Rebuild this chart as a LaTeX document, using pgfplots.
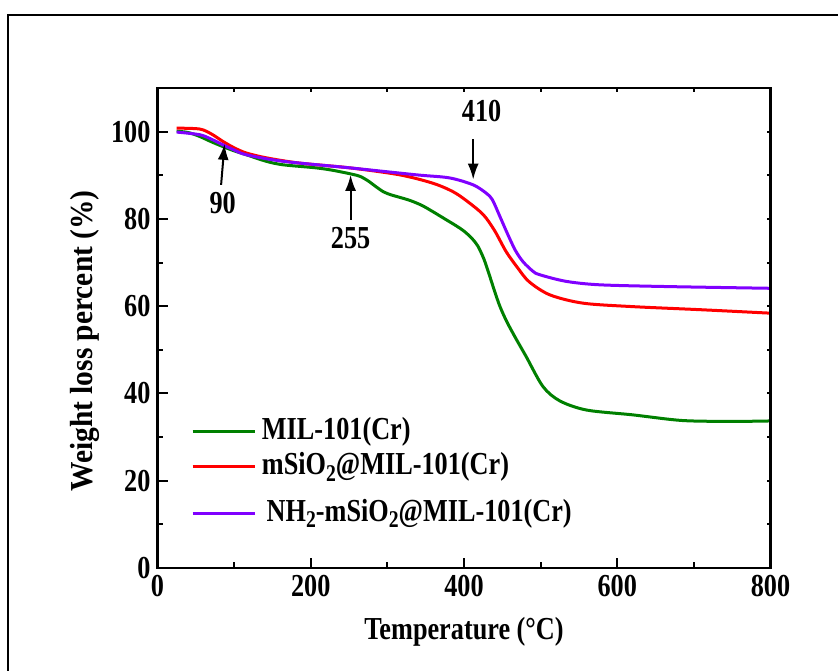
\documentclass[border=0pt]{standalone}
\usepackage{fontspec}
\setmainfont{Liberation Serif}[FakeStretch=0.82]
\newfontfamily\ylabfont{Liberation Serif}[FakeStretch=0.92]
\usepackage{pgfplots}
\pgfplotsset{compat=1.18}
\usetikzlibrary{arrows.meta}
\definecolor{cgreen}{RGB}{0,128,0}
\definecolor{cred}{RGB}{255,0,0}
\definecolor{cpurple}{RGB}{128,0,255}
\newcommand{\bigf}{\bfseries\fontsize{16}{19}\selectfont}
\newcommand{\sub}[1]{\raisebox{-0.45ex}{\fontsize{12}{12}\selectfont #1}}
\begin{document}
\begin{tikzpicture}[x=1pt,y=1pt,font=\bigf]
\useasboundingbox (-78.75,-51) rectangle (340.25,284);
\draw[line width=1pt] (-74.75,-60) -- (-74.75,276.5) -- (360,276.5);
\begin{axis}[
  name=main, at={(0,0)}, anchor=south west,
  scale only axis, width=306.5pt, height=240pt,
  xmin=0, xmax=800, ymin=0, ymax=110,
  xtick={0,200,400,600,800}, ytick={0,20,40,60,80,100},
  minor x tick num=1, minor y tick num=1,
  tick pos=left, tick align=inside,
  major tick length=5pt, minor tick length=2.8pt,
  every tick/.style={black, line width=1pt},
  axis line style={line width=1.3pt},
  /pgf/number format/assume math mode=true,
  ticklabel style={font=\bigf},
  xlabel={Temperature (°C)}, ylabel={\ylabfont Weight loss percent (\%)},
  xlabel style={at={(axis description cs:0.5,-0.133)}, anchor=center, font=\bigf},
  ylabel style={at={(axis description cs:-0.118,0.473)}, anchor=center, font=\bigf},
  clip=false,
]
\addplot[cgreen, line width=1.5pt, smooth, tension=0.5] coordinates {
(25,100.1) (40,99.8) (55,98.9) (70,97.7) (85,96.6) (100,95.6) (116,94.7) (142,93.2)
(164,92.4) (207,91.7) (230,91.1) (255,90.2) (265,89.7) (275,88.7) (285,87.4) (295,86.2)
(305,85.5) (315,85.0) (330,84.2) (345,83.1) (359,81.7) (375,80.0) (390,78.4) (400,77.2)
(410,75.6) (418,73.8) (426,70.8) (433,67.2) (440,63.4) (447,59.9) (456,56.4) (468,52.5)
(481,48.5) (503,41.6) (525,38.3) (560,36.2) (620,35.1) (685,33.8) (751,33.6) (800,33.7)};
\addplot[cred, line width=1.5pt, smooth, tension=0.5] coordinates {
(25,100.8) (55,100.6) (70,99.5) (85,97.8) (100,96.3) (116,95.1) (142,94.0) (185,92.8)
(251,91.7) (316,90.1) (359,88.2) (385,86.3) (403,84.2) (425,81.0) (440,77.3) (455,72.5)
(470,68.8) (485,65.6) (512,62.6) (555,60.7) (620,59.9) (708,59.2) (800,58.4)};
\addplot[cpurple, line width=1.5pt, smooth, tension=0.5] coordinates {
(25,99.9) (55,99.3) (70,98.3) (85,97.0) (100,95.8) (116,94.7) (164,93.2) (251,91.7)
(338,90.1) (381,89.4) (412,87.8) (429,85.9) (437,84.4) (447,80.5) (457,76.5) (467,72.8)
(477,70.2) (490,68.0) (499,67.2) (533,65.7) (577,64.9) (664,64.5) (800,64.1)};
% legend
\draw[cgreen, line width=1.5pt] (axis cs:45.7,31.3) -- (axis cs:126.6,31.3);
\node[anchor=west, inner sep=0pt] at (axis cs:135.8,31.3) {MIL-101(Cr)};
\draw[cred, line width=1.5pt] (axis cs:45.7,23.2) -- (axis cs:126.6,23.2);
\node[anchor=west, inner sep=0pt] at (axis cs:135.8,23.2) {mSiO\sub{2}@MIL-101(Cr)};
\draw[cpurple, line width=1.5pt] (axis cs:45.7,12.5) -- (axis cs:126.6,12.5);
\node[anchor=west, inner sep=0pt] at (axis cs:142,12.5) {NH\sub{2}-mSiO\sub{2}@MIL-101(Cr)};
% annotations
\draw[line width=1pt, -{Latex[length=8pt,width=5.5pt]}] (axis cs:83,87.8) -- (axis cs:87.5,97.2);
\node at (axis cs:85,83.6) {90};
\draw[line width=1pt, -{Latex[length=8pt,width=5.5pt]}] (axis cs:252,79.8) -- (axis cs:252,90.1);
\node at (axis cs:252,75.6) {255};
\draw[line width=1pt, -{Latex[length=8pt,width=5.5pt]}] (axis cs:412,98.2) -- (axis cs:412,89.0);
\node at (axis cs:423,104.7) {410};
\end{axis}
\begin{axis}[
  at={(0,0)}, anchor=south west,
  scale only axis, width=306.5pt, height=240pt,
  xmin=0, xmax=800, ymin=0, ymax=110,
  xtick={0,200,400,600,800}, ytick={0,20,40,60,80,100},
  minor x tick num=1, minor y tick num=1,
  tick pos=right, tick align=inside,
  major tick length=2pt, minor tick length=2pt,
  every tick/.style={black, line width=1pt},
  axis line style={line width=1.3pt},
  xticklabels={}, yticklabels={},
]
\end{axis}
\end{tikzpicture}
\end{document}
